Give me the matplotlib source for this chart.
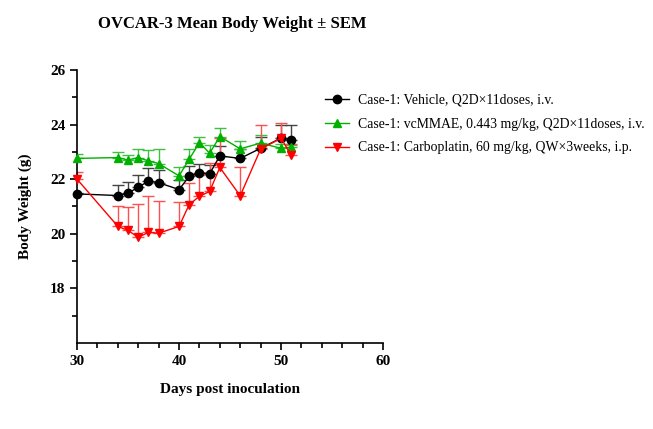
import matplotlib.pyplot as plt
import numpy as np

plt.rcParams['font.family'] = ['Liberation Serif', 'DejaVu Serif']

days = [30, 34, 35, 36, 37, 38, 40, 41, 42, 43, 44, 46, 48, 50, 51]

vehicle = [21.46, 21.40, 21.49, 21.70, 21.93, 21.87, 21.62, 22.10, 22.24, 22.20, 22.85, 22.76, 23.13, 23.50, 23.44]
vehicle_sem = [0.05, 0.40, 0.39, 0.45, 0.47, 0.47, 0.35, 0.39, 0.32, 0.30, 0.38, 0.36, 0.41, 0.48, 0.56]

vcmmae = [22.76, 22.79, 22.70, 22.79, 22.67, 22.57, 22.12, 22.73, 23.34, 22.95, 23.56, 23.11, 23.32, 23.13, 23.17]
vcmmae_sem = [0.17, 0.22, 0.20, 0.31, 0.38, 0.55, 0.32, 0.37, 0.22, 0.31, 0.31, 0.29, 0.30, 0.17, 0.08]

carbo = [22.00, 20.27, 20.12, 19.87, 20.05, 20.02, 20.27, 21.07, 21.37, 21.55, 22.43, 21.39, 23.10, 23.50, 22.88]
carbo_sem = [0.27, 0.75, 0.86, 1.23, 1.32, 1.18, 0.91, 0.80, 0.80, 1.05, 1.07, 1.04, 0.89, 0.57, 0.39]

labels = ['Case-1: Vehicle, Q2D\u00d711doses, i.v.',
          'Case-1: vcMMAE, 0.443 mg/kg, Q2D\u00d711doses, i.v.',
          'Case-1: Carboplatin, 60 mg/kg, QW\u00d73weeks, i.p.']

fig = plt.figure(figsize=(6.53, 4.29), dpi=100)
ax = fig.add_axes([0.118, 0.2005, 0.4685, 0.6365])

series = [(vehicle, vehicle_sem, 'black', 'o', '#444444'),
          (vcmmae, vcmmae_sem, '#00B000', '^', '#40C040'),
          (carbo, carbo_sem, '#FF0000', 'v', '#FF5050')]

handles = []
for (vals, sem, col, mk, ecol), lab in zip(series, labels):
    v = np.array(vals)
    s = np.array(sem)
    # error bars above only (GraphPad style)
    ax.errorbar(days, v, yerr=[np.zeros_like(s), s], fmt='none', ecolor=ecol,
                elinewidth=1, capsize=4, capthick=1, zorder=2)
    h, = ax.plot(days, v, color=col, marker=mk, markersize=6, lw=1, zorder=3,
                 label=lab, clip_on=False)
    handles.append(h)

ax.set_xlim(30, 60)
ax.set_ylim(16, 26)
ax.set_xticks([30, 40, 50, 60])
ax.set_xticks(np.arange(30, 61, 2), minor=True)
ax.set_yticks([18, 20, 22, 24, 26])
ax.set_yticks(np.arange(17, 26, 2), minor=True)
for sp in ['top', 'right']:
    ax.spines[sp].set_visible(False)
for sp in ['left', 'bottom']:
    ax.spines[sp].set_linewidth(1.2)
ax.tick_params(which='major', length=5, width=1.2, labelsize=11)
ax.tick_params(which='minor', length=3.5, width=1.2)
for t in ax.get_xticklabels() + ax.get_yticklabels():
    t.set_fontweight('bold')

ax.set_xlabel('Days post inoculation', fontsize=11, fontweight='bold', labelpad=11)
ax.set_ylabel('Body Weight (g)', fontsize=11, fontweight='bold', labelpad=13)
fig.text(0.355, 0.945, 'OVCAR-3 Mean Body Weight \u00b1 SEM', ha='center', va='center',
         fontsize=12, fontweight='bold')

fig.legend(handles=handles, loc='upper left', bbox_to_anchor=(0.478, 0.81),
           frameon=False, fontsize=9.9, handlelength=1.8, handletextpad=0.6,
           labelspacing=0.78, markerscale=1.0)

fig.savefig('out.png', dpi=100)
